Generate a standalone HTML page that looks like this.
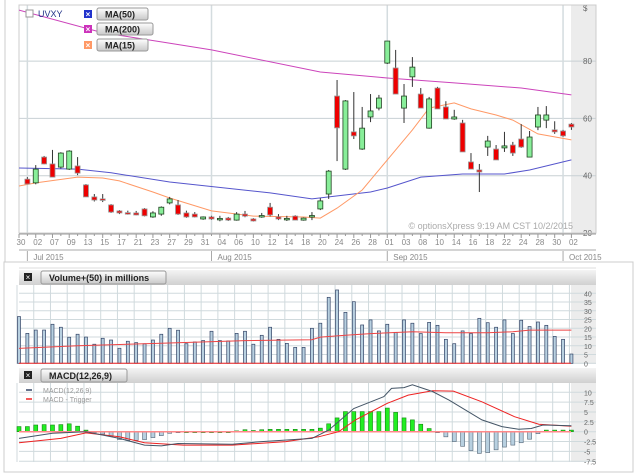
<!DOCTYPE html>
<html><head><meta charset="utf-8"><style>
html,body{margin:0;padding:0;background:#fff;width:640px;height:473px;overflow:hidden}
svg{display:block;font-family:"Liberation Sans",sans-serif}
</style></head><body>
<svg id="c" width="640" height="473" viewBox="0 0 640 473" xmlns="http://www.w3.org/2000/svg">
<defs>
<linearGradient id="hg" x1="0" y1="0" x2="0" y2="1"><stop offset="0" stop-color="#f4f4f4"/><stop offset="1" stop-color="#d0d0d0"/></linearGradient>
<linearGradient id="bg" x1="0" y1="0" x2="0" y2="1"><stop offset="0" stop-color="#ffffff"/><stop offset="1" stop-color="#c8c8c8"/></linearGradient>
<clipPath id="mainClip"><rect x="19" y="5" width="577" height="228"/></clipPath>
</defs>
<line x1="5" y1="0" x2="5" y2="262" stroke="#ccc"/>
<rect x="4" y="262" width="629" height="210" fill="none" stroke="#ccc"/>
<g id="main"></g>
<g id="vol"></g>
<g id="macd"></g>
</svg>
<script>
const dates=["30","01","02","06","07","08","09","10","13","14","15","16","17","20","21","22","23","24","27","28","29","30","31","03","04","05","06","07","10","11","12","13","14","17","18","19","20","21","24","25","26","27","28","31","01","02","03","04","08","09","10","11","14","15","16","17","18","21","22","23","24","25","28","29","30","01","02"];
const opens=[38,38.8,37.5,46.5,44.1,43,42.3,43.4,36.8,32.6,31.9,29.8,27.7,27.1,27,28.4,25.6,26.6,30.5,29.8,27,26.6,24.9,25.6,25,25.2,24.5,26.6,24.9,26,29,25.6,25,25.9,24.5,26,28.4,33.6,67.8,42.3,55.3,49.3,60.5,63.6,79.3,77.6,63.6,74.5,68.5,56.6,70.6,64,59.8,58.4,44.8,42,50,49.3,49.7,50.7,52.8,46.5,57,59.4,56,55.6,58];
const highs=[39,39.5,43.7,46.9,49,48.2,48.9,46.5,37.1,33.6,33.6,30.1,28,27.8,27.7,28.7,27.6,29.3,32.6,31.5,27.8,27.3,25.8,26,26,25.6,27.3,27.7,25.2,27,30.5,26.6,26,26.2,25.4,27.3,32.2,42,73.4,66.4,69.2,64,68.5,68.2,87,83.9,72,81.4,70.6,67.5,71,66,63,59.5,47.9,44.1,53.9,50.7,55.3,51.8,58,55.6,64,64.3,59,56,58.4];
const lows=[37,37,37,44,39.5,42.5,42,40.2,32.6,31,30.8,27,26.6,26.4,26.2,25.8,25.3,26,30,26.3,25.3,25.4,24.6,24.6,24.1,24.2,24.3,25.5,24,25.3,25.8,24.5,24.2,24.4,24.3,24.5,28,31.9,45.1,42,52.8,49,58.7,62.8,79,68.5,58.4,71,63.6,56.4,63.3,59.8,59.5,48.3,42.3,34.3,46.9,45.5,48.3,46.9,49.7,46.5,55.9,56.6,54.6,53.6,56];
const closes=[37.2,37.1,42.3,44.1,39.5,47.9,48.6,40.9,32.6,31.5,31.7,27.3,27,27,26.3,26,27,29,31.9,26.6,25.6,25.6,25.6,24.9,25.1,24.5,26.6,25.9,24.2,26.1,26.3,24.9,25.1,24.5,25.2,26.1,31.2,41.6,56.7,66.1,53.9,56.6,62.6,67.1,87,68.5,67.8,77.9,63.6,66.8,63.3,59.8,60.5,48.3,42.3,41.3,52.1,45.5,50.4,47.9,50,53.5,61.2,61.2,55.3,53.9,57];
const ma200Idx=[0,10,17,23,36,44,52,60,66];
const ma200Val=[97.8,89.9,86.7,83.9,76.2,74.1,72.4,70.6,68.2];
const ma50Idx=[0,7,11,18,30,35,42,44,48,53,58,61,66];
const ma50Val=[42.7,42.3,41,37.8,34,31.9,34.3,35.7,39.5,40.6,40.6,42,45.5];
const ma15Idx=[0,2,7,10,12,16,18,23,28,34,36,38,41,44,47,49,52,54,57,59,62,66];
const ma15Val=[36.4,37.5,39.5,39.2,38.2,34.3,32.2,27.7,25.9,25.6,25.2,28.7,35,45.5,56,63.6,65.4,63.3,61.2,59.4,54.6,52.5];
const priceTicks=[80,60,40,20];
const volumes=[26.7,17.1,19,19,22.3,20.6,14.9,16.6,15,10.9,14.3,13.3,8.6,12.6,11.8,11.2,13.3,16.6,20,18.9,11.2,12.2,13,18.3,13,12.8,17.1,18.3,10.9,16,20.6,13.7,11.4,9.1,9.1,20,22.9,37.7,41.9,29.1,35.2,21.9,24.8,18.5,22.3,17.7,24.8,22.9,17,23.4,21.7,13.7,11.2,18.5,17,25.7,23.2,20.6,24.8,17,24.6,21,23.6,21.7,15.4,13.7,5.3];
const volMaIdx=[0,7,17,27,35,36,39,42,47,51,56,59,61,66];
const volMaVal=[8.5,10,11.5,13,13.5,15,16,17,18,17.5,17.5,18,19,19];
const volTicks=[40,35,30,25,20,15,10,5,0];
const hist=[1.3,1.3,1.7,1.8,1.7,1.8,2,1.4,0.4,-0.3,-0.6,-1.1,-2,-2.2,-2.2,-2,-1.5,-1,-0.4,-0.2,0,0,0,0,0,0,0.2,0.5,0.3,0.5,0.6,0.6,0.6,0.6,0.6,0.6,0.9,2,3.5,5.1,5.1,5.1,5.1,5.1,6,4.9,3.5,3,1.9,0.8,-0.2,-1.3,-2.5,-3.7,-4.8,-5.5,-5.3,-4.6,-3.9,-3.4,-2.8,-1.9,-0.5,0.4,0.4,0.4,0.4];
const macdIdx=[0,4,8,12,15,17,19,25.5,29,35,37,40,43.6,44.5,46,47,49.4,51.4,55.3,57.7,59.7,61.2,62.6,66];
const macdVal=[-1.7,-0.4,0,-1.7,-3.4,-3.6,-3,-3.2,-2.5,-1.7,0.4,5.9,8.9,11,11.2,11.9,10.2,8,3,1.3,0.6,0.8,1.7,1.5];
const trigIdx=[0,5,8,12,15,19.6,25.5,31.9,35.8,38.2,40.2,44,46.5,49.4,51.9,55.3,59.2,62.1,66];
const trigVal=[-2.8,-1.7,-0.3,-1.3,-2.8,-3.4,-3.4,-2.5,-1.3,0,3,7.2,9.3,10.4,10.3,7.6,3.8,1.9,1.4];
const macdTicks=[10,7.5,5,2.5,0,-2.5,-5,-7.5];

const NS="http://www.w3.org/2000/svg";
function mk(parent,tag,attrs,text){const e=document.createElementNS(NS,tag);for(const k in attrs)e.setAttribute(k,attrs[k]);if(text!==undefined)e.textContent=text;parent.appendChild(e);return e;}
const X0=19,STEP=8.37,RIGHT=596,SHADE=571;
const xs=i=>X0+i*STEP;
const yp=v=>233-(v-20)*2.865;
const yv=v=>363.3-v*1.75;
const ym=v=>431.7-v*3.94;
function pathOf(idx,vals,yf){return idx.map((i,k)=>(k?"L":"M")+xs(i).toFixed(1)+","+yf(vals[k]).toFixed(1)).join("");}

/* ---------- main panel ---------- */
const M=document.getElementById('main');
let e;
e=mk(M,'rect',{x:SHADE,y:5,width:RIGHT-SHADE,height:228,fill:'#ececec'});


priceTicks.forEach(v=>{
  if(v>20){e=mk(M,'line',{x1:19,x2:RIGHT,y1:yp(v),y2:yp(v),stroke:'#c8d0d4'});
  
  }
  e=mk(M,'text',{x:583,y:yp(v)+3,'font-size':8,fill:'#666'},String(v));
  
  
});
e=mk(M,'text',{x:583,y:11,'font-size':8,fill:'#666'},'$');


[1,23,44,65].forEach(i=>{
  e=mk(M,'line',{x1:xs(i),x2:xs(i),y1:5,y2:233,stroke:'#d4dcdf','stroke-width':1.5});
  
  
});
e=mk(M,'rect',{x:19,y:5,width:RIGHT-19,height:228,fill:'none',stroke:'#ccc'});


const G=mk(M,'g',{'clip-path':'url(#mainClip)'});
e=mk(G,'path',{d:pathOf(ma200Idx,ma200Val,yp),fill:'none',stroke:'#cc44bb','stroke-width':1});


e=mk(G,'path',{d:pathOf(ma50Idx,ma50Val,yp),fill:'none',stroke:'#5555cc','stroke-width':1});


e=mk(G,'path',{d:pathOf(ma15Idx,ma15Val,yp),fill:'none',stroke:'#ff9966','stroke-width':1});


closes.forEach((c,i)=>{
  if(i===0) return;
  const o=opens[i],x=xs(i),up=c>=o;
  e=mk(G,'line',{x1:x,x2:x,y1:yp(highs[i]),y2:yp(lows[i]),stroke:'#333','stroke-width':1});
  
  
  const top=yp(Math.max(o,c)),h=Math.max(1.5,Math.abs(yp(o)-yp(c)));
  e=mk(G,'rect',{x:x-2.5,y:top,width:5,height:h,fill:up?'#88ee99':'#ee0000',stroke:up?'#224422':'#999','stroke-width':0.8});
  
  
});
// x axis
e=mk(M,'line',{x1:19,x2:RIGHT,y1:234,y2:234,stroke:'#999'});


dates.forEach((d,i)=>{
  const major=i%2===0;
  e=mk(M,'line',{x1:xs(i),x2:xs(i),y1:234,y2:major?238:236,stroke:'#999'});
  
  
  if(major){e=mk(M,'text',{x:xs(i)+2,y:245,'font-size':8,fill:'#888','text-anchor':'middle'},d);
  
  }
});
e=mk(M,'line',{x1:19,x2:RIGHT,y1:250,y2:250,stroke:'#aaa'});


e=mk(M,'line',{x1:19,x2:RIGHT,y1:268,y2:268,stroke:'#ddd'});
[[1,'Jul 2015'],[23,'Aug 2015'],[44,'Sep 2015'],[65,'Oct 2015']].forEach(m=>{
  e=mk(M,'line',{x1:xs(m[0]),x2:xs(m[0]),y1:251,y2:261,stroke:'#aaa'});
  
  
  e=mk(M,'text',{x:xs(m[0])+6,y:260,'font-size':8,fill:'#888'},m[1]);
  
  
});
e=mk(M,'text',{x:573,y:229,'font-size':9,fill:'#aaa','text-anchor':'end'},'© optionsXpress 9:19 AM CST 10/2/2015');


// legend
e=mk(M,'rect',{x:26,y:10,width:7,height:7,fill:'#fff',stroke:'#999'});


e=mk(M,'text',{x:38,y:17,'font-size':9,fill:'#223388'},'UVXY');


[['MA(50)','#2233cc',8,51],['MA(200)','#cc33bb',23,56],['MA(15)','#ff9966',39,51]].forEach(l=>{
  e=mk(M,'rect',{x:84,y:l[2]+2,width:8,height:8,fill:l[1]});
  
  
  e=mk(M,'text',{x:88,y:l[2]+9,'font-size':8,fill:'#fff','text-anchor':'middle','font-weight':'bold'},'×');
  e=mk(M,'rect',{x:97,y:l[2],width:l[3],height:12,rx:2,fill:'url(#bg)',stroke:'#999'});
  
  
  e=mk(M,'text',{x:105,y:l[2]+9.5,'font-size':9,fill:'#222','font-weight':'bold'},l[0]);
  
  
});

/* ---------- panel helper ---------- */
function header(P,y,w,label,name){
  e=mk(P,'rect',{x:19,y:y,width:RIGHT-19,height:15,fill:'url(#hg)'});
  
  
  e=mk(P,'rect',{x:24,y:y+3,width:8,height:8,fill:'#222'});
  
  
  mk(P,'text',{x:28,y:y+10,'font-size':8,fill:'#fff','text-anchor':'middle'},'×');
  e=mk(P,'rect',{x:41,y:y+1,width:w,height:13,rx:2,fill:'url(#bg)',stroke:'#999'});
  
  
  e=mk(P,'text',{x:49,y:y+11,'font-size':9,'font-weight':'bold',fill:'#222'},label);
  
  
}
function grid(P,y0,y1,ticks,yf,name){
  e=mk(P,'rect',{x:SHADE,y:y0,width:RIGHT-SHADE,height:y1-y0,fill:'#ececec'});
  for(let i=0;i<dates.length;i+=2){e=mk(P,'line',{x1:xs(i)-2,x2:xs(i)-2,y1:y0,y2:y1,stroke:'#d0dadd'});}
  ticks.forEach(v=>{
    e=mk(P,'line',{x1:19,x2:RIGHT,y1:yf(v),y2:yf(v),stroke:'#d0dadd'});
    
    
    e=mk(P,'text',{x:584,y:yf(v)+3,'font-size':7,fill:'#666'},String(v));
    
    
  });
}

/* ---------- volume ---------- */
const V=document.getElementById('vol');
header(V,270,125,'Volume+(50) in millions','volume');
grid(V,285,364,volTicks,yv,'volume');
volumes.forEach((v,i)=>{
  e=mk(V,'rect',{x:xs(i)-1.5,y:yv(v),width:3,height:yv(0)-yv(v),fill:'#b8d0e0',stroke:'#334466','stroke-width':0.7});
  
  
});
e=mk(V,'path',{d:pathOf(volMaIdx,volMaVal,yv),fill:'none',stroke:'#ee4444','stroke-width':1});


e=mk(V,'line',{x1:19,x2:RIGHT-25,y1:yv(0),y2:yv(0),stroke:'#ee2222','stroke-width':1});



/* ---------- macd ---------- */
const C=document.getElementById('macd');
header(C,368,86,'MACD(12,26,9)','macd');
grid(C,383,462,macdTicks,ym,'macd');
hist.forEach((v,i)=>{
  const pos=v>=0,t=ym(Math.max(v,0)),h=Math.max(1,Math.abs(ym(v)-ym(0)));
  e=mk(C,'rect',{x:xs(i)-2,y:t,width:4,height:h,fill:pos?'#22ee22':'#b8d0e0',stroke:pos?'#118811':'#556677','stroke-width':0.6});
  
  
});
e=mk(C,'line',{x1:19,x2:RIGHT-25,y1:ym(0),y2:ym(0),stroke:'#ff8888','stroke-width':1.5});


e=mk(C,'path',{d:pathOf(trigIdx,trigVal,ym),fill:'none',stroke:'#ee2222','stroke-width':1});


e=mk(C,'path',{d:pathOf(macdIdx,macdVal,ym),fill:'none',stroke:'#445566','stroke-width':1});


[['MACD(12,26,9)','#334466',393],['MACD - Trigger','#ee2222',402]].forEach(l=>{
  e=mk(C,'line',{x1:26,x2:32,y1:l[2]-3,y2:l[2]-3,stroke:l[1],'stroke-width':1.5});
  
  
  e=mk(C,'text',{x:43,y:l[2],'font-size':7,fill:'#999'},l[0]);
  
  
});
</script>
</body></html>
